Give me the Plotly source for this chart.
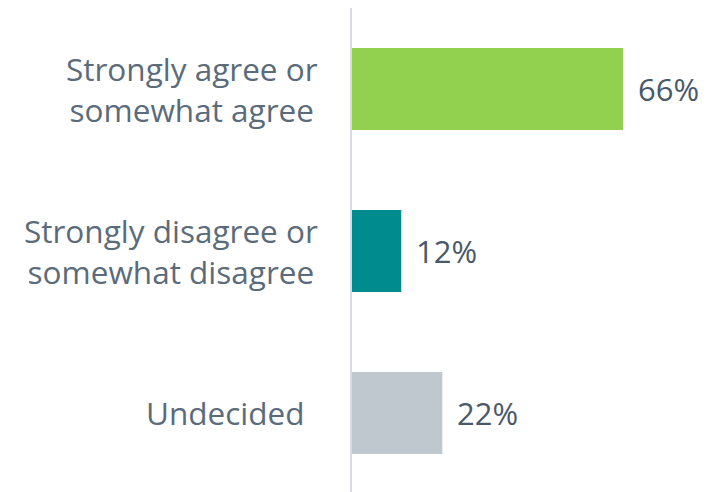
import plotly.graph_objects as go

categories = ["Strongly agree or<br>somewhat agree",
              "Strongly disagree or<br>somewhat disagree",
              "Undecided"]
values = [66, 12, 22]
bar_colors = ["#92d050", "#008b8f", "#bfc8cf"]
label_shift = [-32, -32, -45]

LABEL_COLOR = "#5b6b7b"
VALUE_COLOR = "#4a5969"
FONT = "Open Sans"

fig = go.Figure(go.Bar(
    y=list(range(len(categories))),
    x=values,
    orientation="h",
    marker=dict(color=bar_colors, line=dict(width=0)),
    hoverinfo="skip",
))

annotations = []
for i, (cat, v) in enumerate(zip(categories, values)):
    annotations.append(dict(
        x=0, y=i, xref="x", yref="y", text=cat, showarrow=False,
        xanchor="right", yanchor="middle", align="center", xshift=label_shift[i],
        font=dict(family=FONT, size=31.5, color=LABEL_COLOR),
    ))
    annotations.append(dict(
        x=v, y=i, xref="x", yref="y", text=f"{v}%", showarrow=False,
        xanchor="left", yanchor="middle", xshift=13,
        font=dict(family=FONT, size=31, color=VALUE_COLOR),
    ))

fig.update_layout(
    width=708, height=492,
    margin=dict(l=352, r=0, t=8, b=0),
    paper_bgcolor="white", plot_bgcolor="white",
    bargap=0.494,
    showlegend=False,
    annotations=annotations,
    xaxis=dict(range=[0, 86.7], visible=False, fixedrange=True),
    yaxis=dict(range=[2.488, -0.5], showticklabels=False, showgrid=False,
               zeroline=False, showline=True, linecolor="#d9dde1", linewidth=2,
               ticks="", fixedrange=True),
)

fig.write_html("out.html")
